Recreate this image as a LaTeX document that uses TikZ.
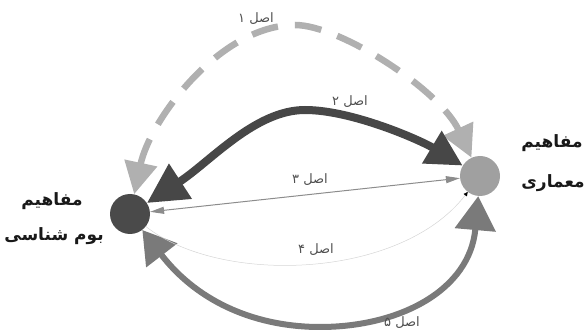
\documentclass[tikz,border=0pt]{standalone}
\usepackage{fontspec}
\setmainfont{DejaVu Sans}
\newfontfamily\fa[Script=Arabic]{DejaVu Sans}
\TeXXeTstate=1
\usetikzlibrary{arrows.meta,backgrounds}
\definecolor{cone}{HTML}{B0B0B0}
\definecolor{ctwo}{HTML}{474747}
\definecolor{cthree}{HTML}{8C8C8C}
\definecolor{cfour}{HTML}{D5D5D5}
\definecolor{cfive}{HTML}{7A7A7A}
\definecolor{cleft}{HTML}{4A4A4A}
\definecolor{cright}{HTML}{A0A0A0}
\definecolor{ctext}{HTML}{505050}
\begin{document}
\begin{tikzpicture}[x=1pt,y=-1pt,
  nd/.style={circle,minimum size=40pt,inner sep=0pt,draw=none},
  lbl/.style={font=\fa\fontsize{13}{15}\selectfont,text=ctext,inner sep=0pt},
  big/.style={font=\fa\bfseries\fontsize{17}{19}\selectfont,text=black!90,inner sep=0pt},
  eone/.style={draw=cone,line width=6.5pt,dash pattern=on 27pt off 17pt,
    {Triangle[length=32pt,width=32pt]}-{Triangle[length=32pt,width=32pt]}},
  etwo/.style={draw=ctwo,line width=8pt,
    {Triangle[length=40pt,width=40pt]}-{Triangle[length=36pt,width=36pt]}},
  ethree/.style={draw=cthree,line width=1pt,
    {Triangle[length=14pt,width=7pt]}-{Triangle[length=14pt,width=7pt]}},
  efour/.style={draw=cfour,line width=0.5pt,
    -{Triangle[length=4pt,width=4pt,color=black]}},
  efive/.style={draw=cfive,line width=6pt,
    {Triangle[length=32pt,width=38pt]}-{Triangle[length=34pt,width=40pt]}}
]
\useasboundingbox (0,0) rectangle (587,331);
\node[nd,fill=cleft] (L) at (130,214) {};
\node[nd,fill=cright] (R) at (480,176) {};
\coordinate (p1) at (295,25);
\coordinate (p2) at (305,110);
\coordinate (p5) at (320,327);
\begin{pgfonlayer}{background}
\draw[eone] (L) .. controls (150,120) and (220,25) .. (p1)
  .. controls (340,25) and (440,90) .. (R);
\draw[efive] (L) .. controls (200,305) and (260,327) .. (p5)
  .. controls (400,327) and (470,290) .. (R);
\draw[efour] (L) .. controls (220,285) and (400,280) .. (R);
\draw[ethree] (L) -- (R);
\draw[etwo] (L) .. controls (210,162) and (255,110) .. (p2)
  .. controls (352,110) and (420,140) .. (R);
\end{pgfonlayer}
\node[lbl] (t1) at (256,19) {\beginR اصل ۱\endR};
\node[lbl] (t2) at (350,102) {\beginR اصل ۲\endR};
\node[lbl] (t3) at (310,180) {\beginR اصل ۳\endR};
\node[lbl] (t4) at (316,250) {\beginR اصل ۴\endR};
\node[lbl] (t5) at (402,323) {\beginR اصل ۵\endR};
\node[big] (la) at (52,201) {\beginR مفاهیم\endR};
\node[big] (lb) at (54,236) {\beginR بوم شناسی\endR};
\node[big] (ra) at (552,143) {\beginR مفاهیم\endR};
\node[big] (rb) at (553,183) {\beginR معماری\endR};
\end{tikzpicture}
\end{document}
